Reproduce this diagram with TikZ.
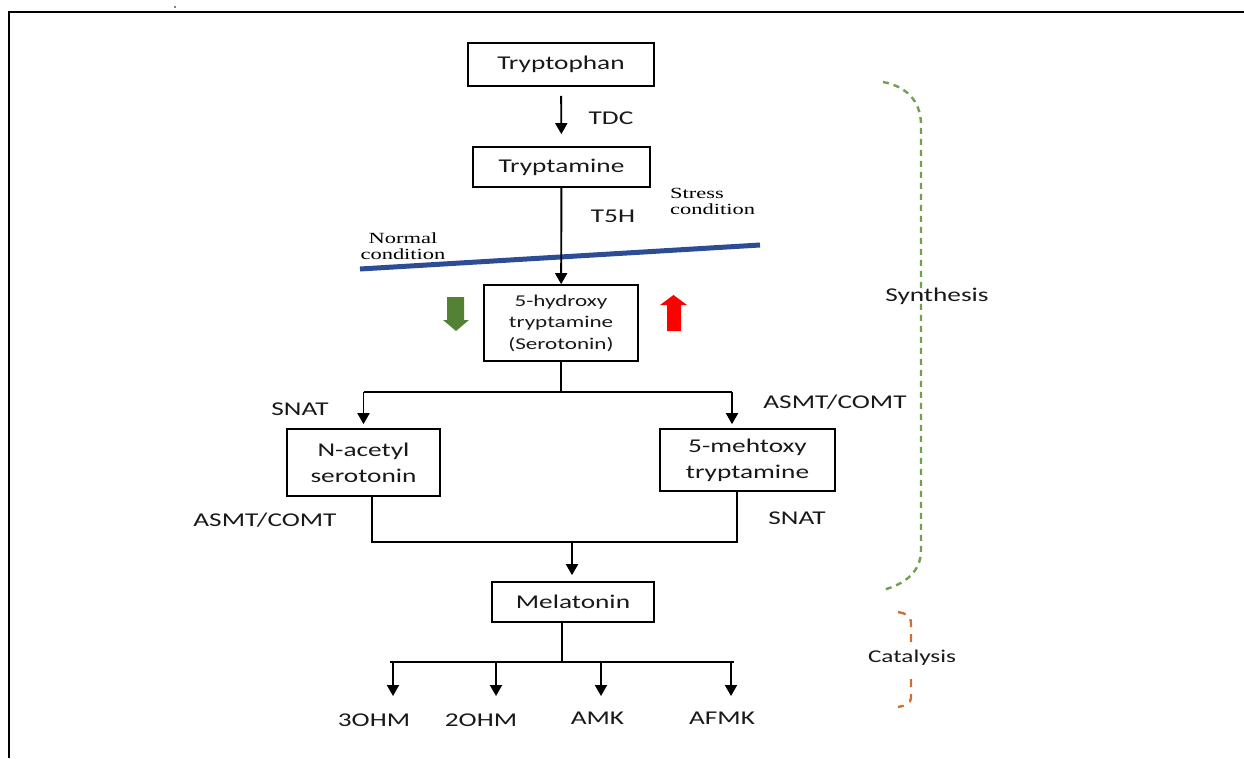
\documentclass[tikz,border=0pt]{standalone}
\usepackage{fontspec}
\newfontfamily\calfont[FakeStretch=1.4]{Carlito}
\newfontfamily\timesfont[FakeStretch=1.45]{Liberation Serif}
\usetikzlibrary{arrows.meta}
\definecolor{condblue}{RGB}{44,76,150}
\definecolor{downgreen}{RGB}{84,130,53}
\definecolor{upred}{RGB}{255,0,0}
\definecolor{synthgreen}{RGB}{112,160,80}
\definecolor{catorange}{RGB}{210,110,50}

\begin{document}
\begin{tikzpicture}[
  x=1pt, y=-1pt,
  box/.style={
    draw, line width=1.7pt, inner sep=0pt, align=center,
    text=black!90, font=\calfont\fontsize{19.5}{26}\selectfont
  },
  smallbox/.style={box, font=\calfont\fontsize{16.5}{21.5}\selectfont},
  enzyme/.style={
    inner sep=0pt, text=black!90,
    font=\calfont\fontsize{19.5}{24}\selectfont
  },
  condlabel/.style={
    inner sep=0pt, font=\timesfont\fontsize{15.5}{16}\selectfont
  },
  flow/.style={
    -{Triangle[width=12pt,length=11pt]}, line width=1.9pt
  },
  bar/.style={line width=1.9pt},
  synbrace/.style={
    synthgreen, line width=2.4pt, dash pattern=on 6pt off 5pt
  },
  catbrace/.style={
    catorange, line width=2.4pt, dash pattern=on 8pt off 7pt
  }
]
\useasboundingbox (0,0) rectangle (1244,758);

% Frame
\draw[line width=1.8pt] (9,758) -- (9,12) -- (1244,12);
\fill (175,7) circle (0.8);

% ===== Main pathway =====
\node[box, minimum width=186, minimum height=43] (trp) at (561,64.5) {Tryptophan};
\node[box, minimum width=177, minimum height=40] (tpa) at (561.5,167) {Tryptamine};
\node[smallbox, minimum width=154, minimum height=76] (ser) at (561,323)
  {5-hydroxy\\tryptamine\\(Serotonin)};
\node[box, minimum width=153, minimum height=67] (nas) at (363.5,462.5)
  {N-acetyl\\serotonin};
\node[box, minimum width=175, minimum height=62] (mtt) at (747.5,460)
  {5-mehtoxy\\tryptamine};
\node[box, minimum width=162, minimum height=40] (mel) at (573,602) {Melatonin};

% Enzymes
\node[enzyme] (tdc) at (611,118) {TDC};
\node[enzyme] (t5h) at (613,216) {T5H};
\node[enzyme] (snatA) at (300,409) {SNAT};
\node[enzyme] (asmtA) at (835,402) {ASMT/COMT};
\node[enzyme] (asmtB) at (265,520) {ASMT/COMT};
\node[enzyme] (snatB) at (797,518) {SNAT};

% Conditions
\draw[condblue, line width=5pt] (360,269) -- (760,245);
\node[condlabel, align=center] (normal) at (403,246) {Normal\\condition};
\node[condlabel, align=left, anchor=west] (stress) at (670,201) {Stress\\condition};

% Up / down markers
\fill[downgreen] (447,297) -- (464,297) -- (464,320) -- (469,320)
  -- (456,331) -- (443,320) -- (447,320) -- cycle;
\fill[upred] (667,331) -- (681,331) -- (681,305) -- (687,305)
  -- (673.5,295) -- (660,305) -- (667,305) -- cycle;

% Connectors
\draw[flow, shorten <=9pt, shorten >=12pt] (trp) -- (tpa);
\draw[flow] (tpa) -- (ser);

\coordinate (sj) at (561,392);
\coordinate (bl) at (363.5,392);
\coordinate (br) at (732,392);
\draw[bar] (ser.south) -- (sj);
\draw[bar] (bl) -- (br);
\draw[flow, shorten >=4pt] (bl) -- (nas.north);
\draw[flow, shorten >=4pt] (br) -- (br |- mtt.north);

\coordinate (ml) at (372,542);
\coordinate (mr) at (737,542);
\coordinate (mj) at (572,542);
\draw[bar] (nas.south -| ml) -- (ml) -- (mr) -- (mtt.south -| mr);
\draw[flow, shorten >=6pt] (mj) -- (mel.north -| mj);

% ===== Catabolites =====
\coordinate (cj) at (562,662);
\draw[bar] (mel.south -| cj) -- (cj);
\draw[bar] (390,662) -- (734,662);
\node[enzyme] (ohm3) at (374,720) {3OHM};
\node[enzyme] (ohm2) at (481,720) {2OHM};
\node[enzyme] (amk) at (597.5,718) {AMK};
\node[enzyme] (afmk) at (722,718) {AFMK};
\foreach \x in {393,496,601,731} {
  \draw[flow] (\x,662) -- (\x,696);
}

% ===== Stages =====
\draw[synbrace] (883,82) .. controls (905,86) and (921,100) .. (921,125)
  -- (921,550) .. controls (921,572) and (905,584) .. (883,590);
\node[enzyme] (syn) at (937,296) {Synthesis};

\draw[catbrace] (898,612) .. controls (905,613) and (911,616) .. (911,622)
  -- (911,698) .. controls (911,703) and (905,706) .. (898,707);
\node[enzyme, fill=white, inner ysep=7pt, font=\calfont\fontsize{18}{22}\selectfont]
  (cat) at (912,658) {Catalysis};

\end{tikzpicture}
\end{document}
